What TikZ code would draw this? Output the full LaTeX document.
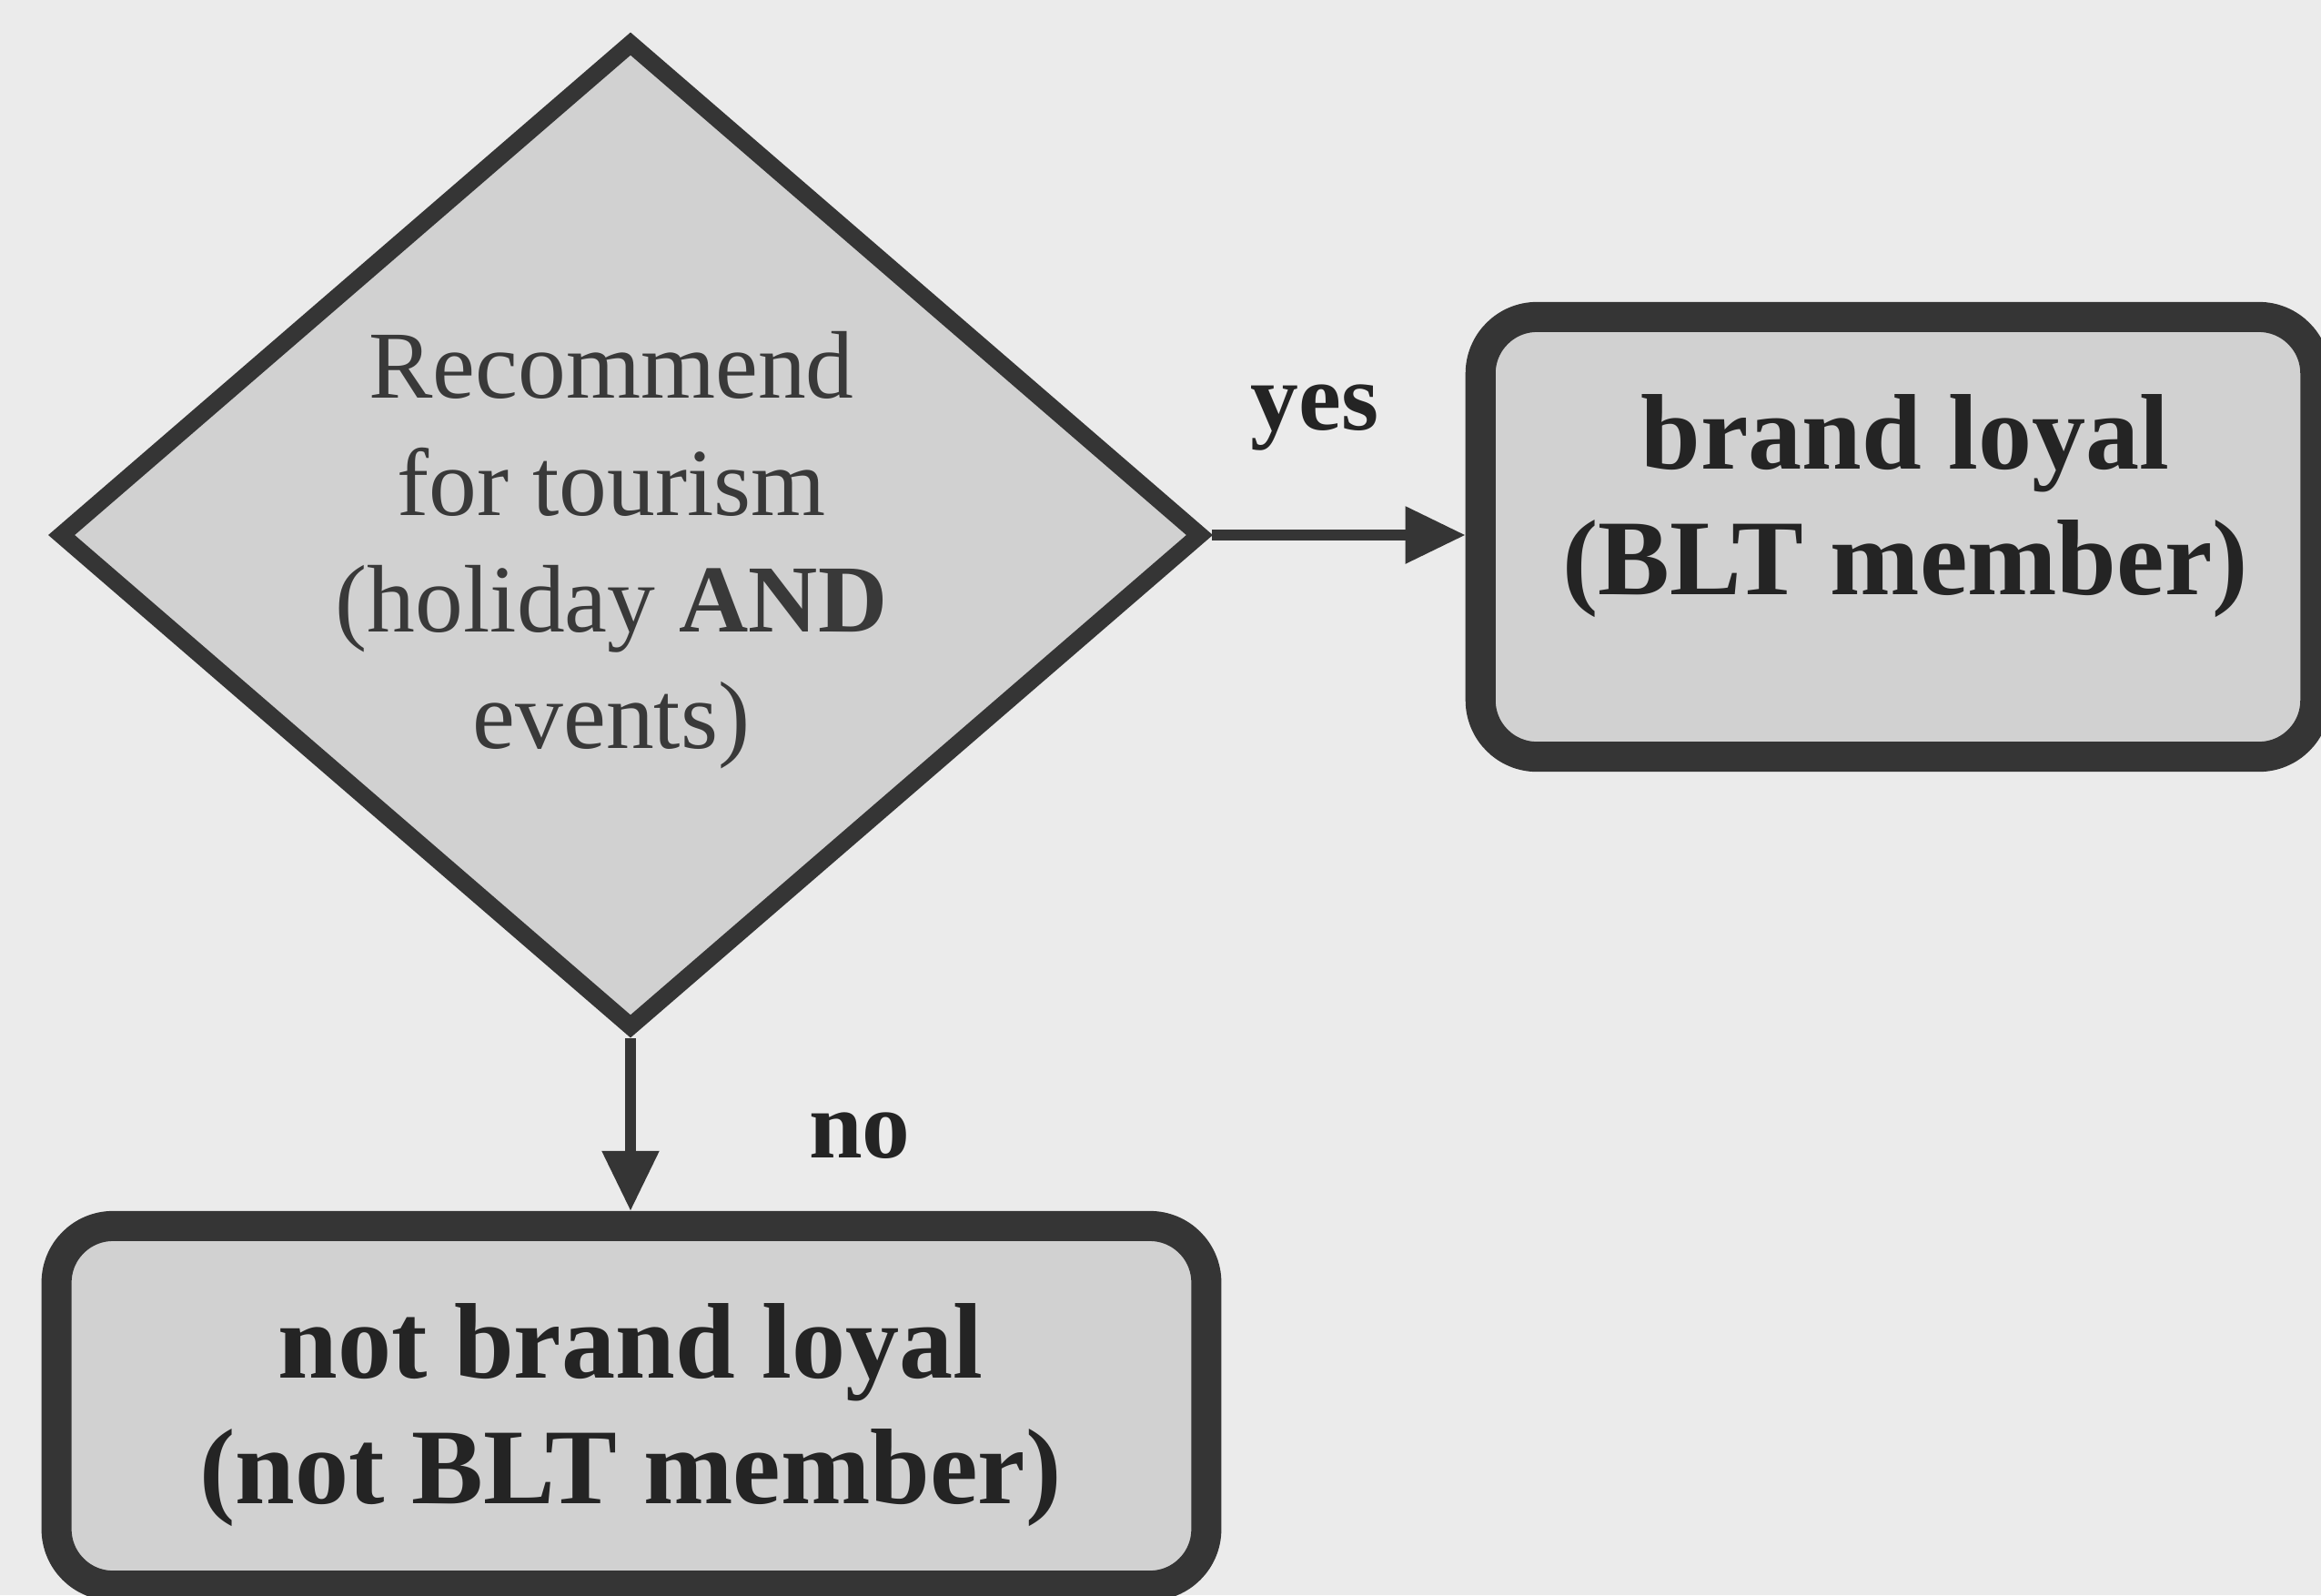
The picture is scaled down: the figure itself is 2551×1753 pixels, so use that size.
\documentclass[tikz,border=0pt]{standalone}
\usepackage{fontspec}
\setmainfont{Liberation Serif}
\usetikzlibrary{shapes.geometric,arrows.meta}
\definecolor{paper}{HTML}{EBEBEB}
\definecolor{shade}{HTML}{D1D1D1}
\definecolor{ink}{HTML}{353535}
\definecolor{txt}{HTML}{242424}
\definecolor{softtxt}{HTML}{393939}
\tikzset{
  decision/.style={diamond, draw=ink, fill=shade, line width=5.4pt, line join=miter,
    minimum width=12.58cm, minimum height=10.87cm, inner sep=0pt},
  outcome/.style={rectangle, draw=ink, fill=shade, line width=9.4pt,
    rounded corners=0.62cm, inner sep=0pt},
  plain/.style={text=softtxt, align=center, inner sep=0pt,
    font=\fontsize{30pt}{36.5pt}\selectfont},
  heavy/.style={text=txt, align=center, inner sep=0pt,
    font=\fontsize{33.6pt}{39.4pt}\selectfont\bfseries},
  edgelabel/.style={text=txt, inner sep=0pt, anchor=base,
    font=\fontsize{30pt}{36pt}\selectfont\bfseries},
  flow/.style={draw=ink, line width=3.4pt,
    -{Triangle[length=0.66cm, width=0.6cm]}},
}
\begin{document}
\begin{tikzpicture}[x=0.01cm, y=-0.01cm]
  % page background
  \fill[paper] (0,0) rectangle (2551,1753);
  \useasboundingbox (0,0) rectangle (2551,1753);

  % decision diamond and its question
  \node[decision] (dec) at (693,588) {};
  \node[plain] (question) at (672,605)
    {Recommend\\for tourism\\(holiday \textbf{AND}\\events)};

  % outcome boxes
  \node[outcome, minimum width=9.17cm, minimum height=4.83cm] (loyal) at (2086,590) {};
  \node[heavy] (loyaltext) at (2094,556) {brand loyal\\(BLT member)};

  \node[outcome, minimum width=12.63cm, minimum height=3.95cm] (notloyal) at (694,1545) {};
  \node[heavy] (notloyaltext) at (693,1555) {not brand loyal\\(not BLT member)};

  % connectors
  \draw[flow] (dec.east) -- (loyal.west |- dec.east);
  \draw[flow] (dec.south) -- (dec.south |- notloyal.north);

  % branch labels
  \node[edgelabel] (yes) at (1445,472) {yes};
  \node[edgelabel] (no) at (945,1272) {no};
\end{tikzpicture}
\end{document}
